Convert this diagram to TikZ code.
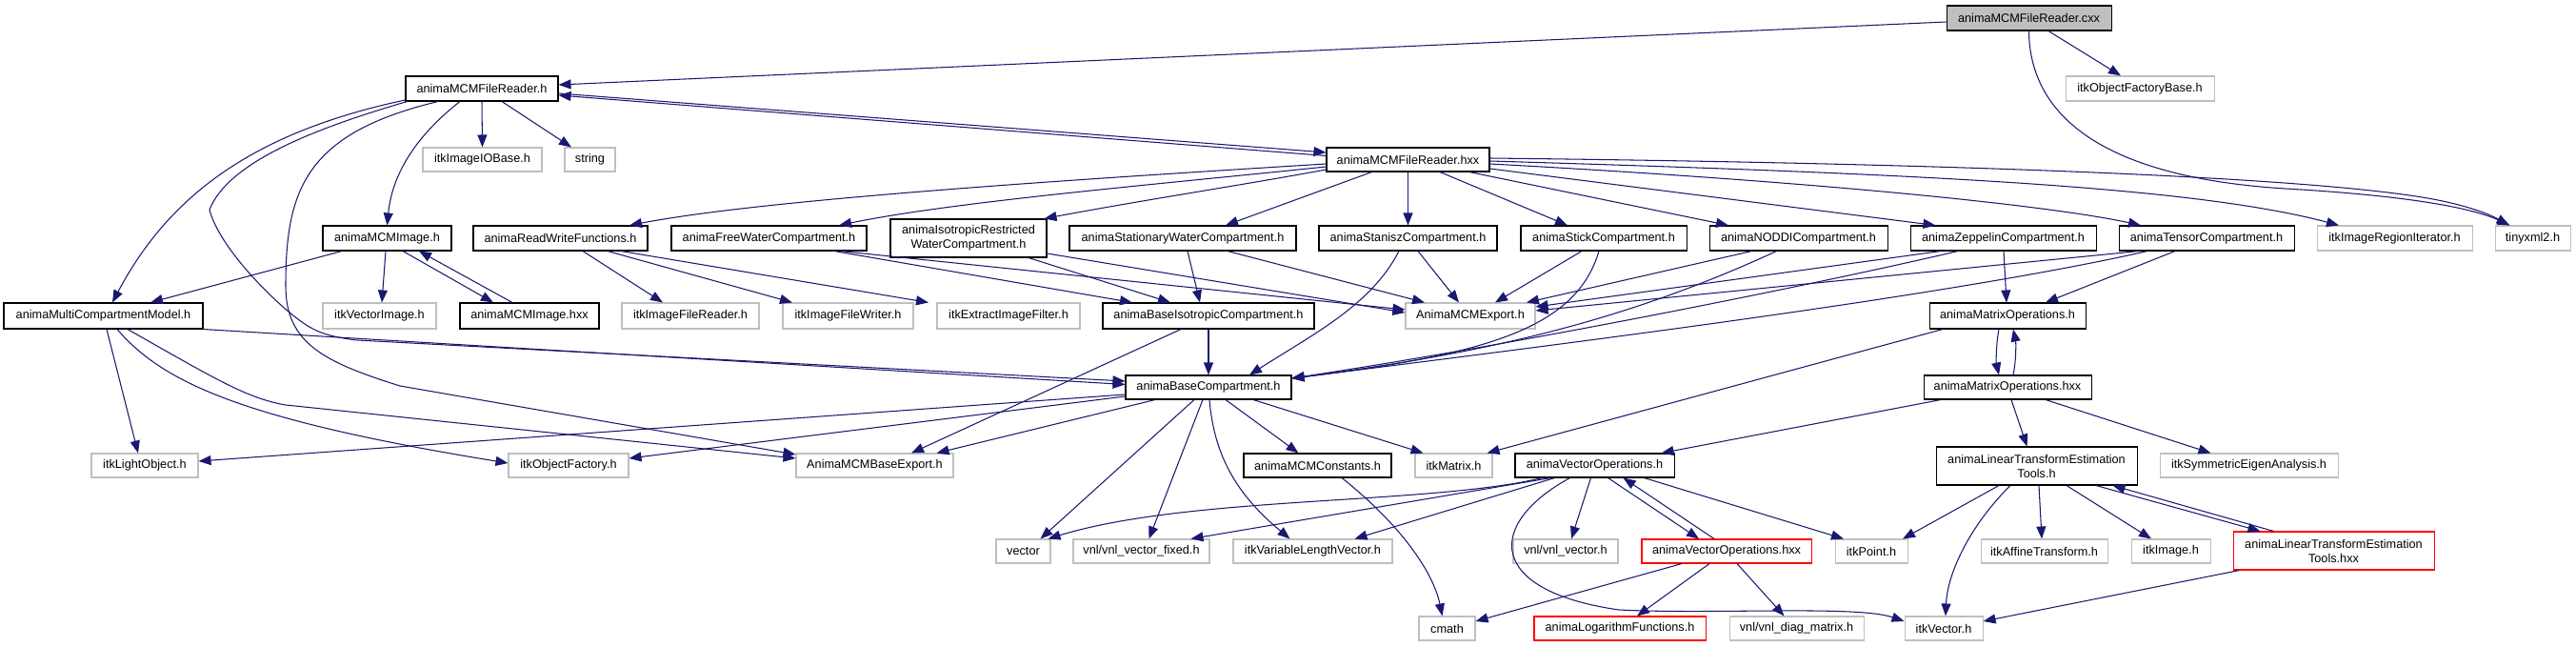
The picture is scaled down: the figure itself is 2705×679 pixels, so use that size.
\documentclass[tikz,border=0pt]{standalone}
\usepackage{fontspec}
\setmainfont{Liberation Sans}
\usetikzlibrary{arrows.meta}
\definecolor{edgec}{HTML}{191970}
\definecolor{grayb}{HTML}{BFBFBF}
\definecolor{cxxfill}{HTML}{BFBFBF}
\tikzset{
 box/.style={rectangle, inner sep=0pt, font=\fontsize{12.7}{15}\selectfont, line width=1.05pt, fill=white, align=center},
 blk/.style={box, draw=black},
 gry/.style={box, draw=grayb},
 redb/.style={box, draw=red},
 cur/.style={box, draw=black, fill=cxxfill},
 sz/.style 2 args={minimum width=#1, minimum height=#2},
 dep/.style={draw=edgec, line width=1.05pt, -{Triangle[length=13pt,width=10pt]}},
}
\begin{document}
\begin{tikzpicture}[x=1pt,y=-1pt]
\fill[white] (0,0) rectangle (2705,679);
\useasboundingbox (0,0) rectangle (2705,679);
% row 0
\node[cur, sz={173}{26}] (cxx) at (2130.5,19) {animaMCMFileReader.cxx};
% row 1
\node[blk, sz={160}{26}] (frh) at (506,93) {animaMCMFileReader.h};
\node[gry, sz={156}{26}] (ofb) at (2247,93) {itkObjectFactoryBase.h};
% row 2
\node[gry, sz={125}{25}] (iob) at (506.5,167.5) {itkImageIOBase.h};
\node[gry, sz={53}{25}] (str) at (619.5,167.5) {string};
\node[blk, sz={171}{25}] (hxx) at (1478.5,167.5) {animaMCMFileReader.hxx};
% row 3
\node[blk, sz={135}{26}] (img) at (406.5,250) {animaMCMImage.h};
\node[blk, sz={183}{26}] (rwf) at (588.5,250) {animaReadWriteFunctions.h};
\node[blk, sz={205}{26}] (fwc) at (807.5,250) {animaFreeWaterCompartment.h};
\node[blk, sz={164}{40}] (irwc) at (1017,250) {animaIsotropicRestricted\\WaterCompartment.h};
\node[blk, sz={238}{26}] (swc) at (1242,250) {animaStationaryWaterCompartment.h};
\node[blk, sz={187}{26}] (stan) at (1478.5,250) {animaStaniszCompartment.h};
\node[blk, sz={174}{26}] (stick) at (1684,250) {animaStickCompartment.h};
\node[blk, sz={187}{26}] (noddi) at (1888.5,250) {animaNODDICompartment.h};
\node[blk, sz={195}{26}] (zep) at (2103.5,250) {animaZeppelinCompartment.h};
\node[blk, sz={184}{26}] (tens) at (2317,250) {animaTensorCompartment.h};
\node[gry, sz={163}{26}] (iri) at (2514.5,250) {itkImageRegionIterator.h};
\node[gry, sz={79}{26}] (tiny) at (2659.5,250) {tinyxml2.h};
% row 4
\node[blk, sz={209}{27}] (mcm) at (108.5,331.5) {animaMultiCompartmentModel.h};
\node[gry, sz={119}{27}] (vimg) at (398.5,331.5) {itkVectorImage.h};
\node[blk, sz={146}{27}] (imghxx) at (556,331.5) {animaMCMImage.hxx};
\node[gry, sz={144}{27}] (ifr) at (725,331.5) {itkImageFileReader.h};
\node[gry, sz={137}{27}] (ifw) at (890.5,331.5) {itkImageFileWriter.h};
\node[gry, sz={150}{27}] (eif) at (1059,331.5) {itkExtractImageFilter.h};
\node[blk, sz={222}{27}] (bic) at (1269,331.5) {animaBaseIsotropicCompartment.h};
\node[gry, sz={136}{27}] (mexp) at (1544,331.5) {AnimaMCMExport.h};
\node[blk, sz={164}{27}] (mo) at (2108,331.5) {animaMatrixOperations.h};
% row 5
\node[blk, sz={174}{25}] (bc) at (1269,406.5) {animaBaseCompartment.h};
\node[blk, sz={176}{25}] (mohxx) at (2108,406.5) {animaMatrixOperations.hxx};
% row 6
\node[gry, sz={112}{25}] (light) at (152,488.5) {itkLightObject.h};
\node[gry, sz={126}{25}] (of) at (597,488.5) {itkObjectFactory.h};
\node[gry, sz={165}{25}] (bexp) at (918.5,488.5) {AnimaMCMBaseExport.h};
\node[blk, sz={155}{25}] (cons) at (1383.5,488.5) {animaMCMConstants.h};
\node[gry, sz={81}{25}] (mat) at (1526.5,488.5) {itkMatrix.h};
\node[blk, sz={167}{25}] (vo) at (1674.5,488.5) {animaVectorOperations.h};
\node[blk, sz={211}{40}] (ltet) at (2138.5,489) {animaLinearTransformEstimation\\Tools.h};
\node[gry, sz={187}{25}] (sea) at (2361.5,488.5) {itkSymmetricEigenAnalysis.h};
% row 7
\node[gry, sz={57}{25}] (vect) at (1074.5,578.5) {vector};
\node[gry, sz={143}{25}] (vvf) at (1198.5,578.5) {vnl/vnl\_vector\_fixed.h};
\node[gry, sz={167}{25}] (vlv) at (1378.5,578.5) {itkVariableLengthVector.h};
\node[gry, sz={110}{25}] (vvec) at (1644,578.5) {vnl/vnl\_vector.h};
\node[redb, sz={178}{25}] (vohxx) at (1813,578.5) {animaVectorOperations.hxx};
\node[gry, sz={76}{25}] (pt) at (1965,578.5) {itkPoint.h};
\node[gry, sz={133}{25}] (aff) at (2146.5,578.5) {itkAffineTransform.h};
\node[gry, sz={83}{25}] (itkimg) at (2279.5,578.5) {itkImage.h};
\node[redb, sz={211}{40}] (lthxx) at (2450.5,578) {animaLinearTransformEstimation\\Tools.hxx};
% row 8
\node[gry, sz={59}{25}] (cmath) at (1519.5,659.5) {cmath};
\node[redb, sz={180}{25}] (log) at (1701,659.5) {animaLogarithmFunctions.h};
\node[gry, sz={141}{25}] (diag) at (1886.5,659.5) {vnl/vnl\_diag\_matrix.h};
\node[gry, sz={82}{25}] (vec) at (2041,659.5) {itkVector.h};

% ---- edges ----
% cxx
\draw[dep] ([yshift=-4]cxx.west) -- ([yshift=4]frh.east);
\draw[dep] ([xshift=20.5]cxx.south) -- ([xshift=-20]ofb.north);
\draw[dep] (cxx.south) .. controls (2131,110) and (2190,185) .. (2400,198) .. controls (2540,206) and (2600,220) .. ([xshift=-24]tiny.north);
% frh
\draw[dep] ([yshift=-12]frh.west) .. controls (260,140) and (175,210) .. ([xshift=9.5]mcm.north);
\draw[dep] ([xshift=2]frh.south west) .. controls (330,135) and (240,170) .. (220,220) .. controls (230,260) and (290,320) .. (320,340) .. controls (335,350) and (350,354) .. (375,357) -- ([yshift=6.5]bc.west);
\draw[dep] ([xshift=-46]frh.south) .. controls (320,140) and (300,200) .. (300,300) .. controls (300,360) and (340,380) .. (420,405) -- ([yshift=11.5]bexp.west);
\draw[dep] ([xshift=-23]frh.south) .. controls (440,140) and (412,180) .. (img.north);
\draw[dep] (frh.south) -- (iob.north);
\draw[dep] ([xshift=21]frh.south) -- ([xshift=-19.5]str.north);
\draw[dep] ([yshift=-5]frh.east) -- ([yshift=7.5]hxx.west);
% hxx
\draw[dep] ([yshift=4]hxx.west) -- ([yshift=-7]frh.east);
\draw[dep] ([yshift=-4.5]hxx.west) .. controls (1100,190) and (800,210) .. ([xshift=72.5]rwf.north);
\draw[dep] ([yshift=-7.5]hxx.west) .. controls (1200,195) and (1000,212) .. ([xshift=73.5]fwc.north);
\draw[dep] ([yshift=-10.5]hxx.west) .. controls (1300,195) and (1200,210) .. ([xshift=-3]irwc.north east);
\draw[dep] ([xshift=-38]hxx.south) -- ([xshift=45]swc.north);
\draw[dep] (hxx.south) -- (stan.north);
\draw[dep] ([xshift=33.5]hxx.south) -- ([xshift=-38]stick.north);
\draw[dep] ([xshift=64.5]hxx.south) -- ([xshift=-73.5]noddi.north);
\draw[dep] ([yshift=-9.5]hxx.east) -- ([xshift=-71]zep.north);
\draw[dep] ([yshift=-4.5]hxx.east) .. controls (1900,190) and (2150,215) .. ([xshift=-69]tens.north);
\draw[dep] ([yshift=-1.5]hxx.east) .. controls (2000,182) and (2300,195) .. ([xshift=-58.5]iri.north);
\draw[dep] ([yshift=1.5]hxx.east) .. controls (2100,172) and (2450,188) .. (2560,210) .. controls (2600,218) and (2620,228) .. ([xshift=-25]tiny.north);
% mcm
\draw[dep] ([xshift=3.5]mcm.south) -- ([xshift=-7]light.north);
\draw[dep] ([xshift=14.5]mcm.south) .. controls (170,400) and (250,440) .. ([yshift=2.5]of.west);
\draw[dep] ([xshift=25.5]mcm.south) .. controls (230,400) and (260,418) .. (300,425) -- ([yshift=7.5]bexp.west);
\draw[dep] (mcm.south east) -- ([yshift=3]bc.west);
% img
\draw[dep] ([xshift=-47.5]img.south) -- ([xshift=49.5]mcm.north);
\draw[dep] ([xshift=-1.5]img.south) -- ([xshift=2.5]vimg.north);
\draw[dep] ([xshift=16.5]img.south) -- ([xshift=-38]imghxx.north);
\draw[dep] ([xshift=-18]imghxx.north) -- ([xshift=33.5]img.south);
% rwf
\draw[dep] ([xshift=23.5]rwf.south) -- ([xshift=-29]ifr.north);
\draw[dep] ([xshift=49.5]rwf.south) -- ([xshift=-58.5]ifw.north);
\draw[dep] ([xshift=63.5]rwf.south) -- ([xshift=-84]eif.north);
% water compartments
\draw[dep] ([xshift=68.5]fwc.south) -- ([xshift=-80]bic.north);
\draw[dep] ([xshift=75]fwc.south) -- ([yshift=6.5]mexp.west);
\draw[dep] ([xshift=63]irwc.south) -- ([xshift=-40]bic.north);
\draw[dep] ([yshift=-16]irwc.east) -- ([yshift=3.5]mexp.west);
\draw[dep] ([xshift=5]swc.south) -- ([xshift=-9]bic.north);
\draw[dep] ([xshift=47]swc.south) -- ([xshift=-48]mexp.north);
% stanisz, stick, noddi, zeppelin, tensor
\draw[dep] ([xshift=10.5]stan.south) -- ([xshift=-12]mexp.north);
\draw[dep] ([xshift=-9.5]stan.south) .. controls (1440,320) and (1380,350) .. ([xshift=43]bc.north);
\draw[dep] ([xshift=-23]stick.south) -- ([xshift=26]mexp.north);
\draw[dep] ([xshift=-5]stick.south) .. controls (1655,345) and (1560,372) .. ([yshift=9.5]bc.east);
\draw[dep] ([xshift=-49]noddi.south) -- ([xshift=59]mexp.north);
\draw[dep] ([xshift=-23]noddi.south) .. controls (1700,340) and (1550,372) .. ([yshift=9.5]bc.east);
\draw[dep] ([xshift=-65.5]zep.south) -- ([yshift=9.5]mexp.east);
\draw[dep] ([xshift=-47.5]zep.south) .. controls (1900,300) and (1600,360) .. ([yshift=9.5]bc.east);
\draw[dep] ([xshift=0.5]zep.south) -- ([xshift=-1]mo.north);
\draw[dep] ([xshift=-71]tens.south) -- ([yshift=5.5]mexp.east);
\draw[dep] ([xshift=-62]tens.south) .. controls (2050,310) and (1650,360) .. ([yshift=9.5]bc.east);
\draw[dep] ([xshift=-33]tens.south) -- ([xshift=40]mo.north);
% bic
\draw[dep] (bic.south) -- (bc.north);
\draw[dep] ([xshift=-29]bic.south) -- ([xshift=38.5]bexp.north);
% bc
\draw[dep] ([yshift=-7.5]bc.west) -- ([yshift=4.5]light.east);
\draw[dep] ([yshift=-9.5]bc.west) -- ([yshift=7.5]of.east);
\draw[dep] ([xshift=-56]bc.south) -- ([xshift=65]bexp.north);
\draw[dep] ([xshift=-15]bc.south) -- ([xshift=18]vect.north);
\draw[dep] ([xshift=-6]bc.south) -- ([xshift=8]vvf.north);
\draw[dep] ([xshift=1]bc.south) .. controls (1275,480) and (1300,520) .. ([xshift=-24]vlv.north);
\draw[dep] ([xshift=18]bc.south) -- ([xshift=-20]cons.north);
\draw[dep] ([xshift=47]bc.south) -- ([xshift=-32]mat.north);
\draw[dep] ([xshift=25.5]cons.south) .. controls (1470,550) and (1505,600) .. ([xshift=-5]cmath.north);
% matrix operations
\draw[dep] ([xshift=-9]mo.south) .. controls (2096,360) and (2096,380) .. ([xshift=-9]mohxx.north);
\draw[dep] ([xshift=6]mohxx.north) .. controls (2117,380) and (2117,360) .. ([xshift=6]mo.south);
\draw[dep] ([xshift=-68]mo.south) -- ([xshift=-6]mat.north east);
\draw[dep] ([xshift=-70]mohxx.south) -- ([xshift=-14]vo.north east);
\draw[dep] ([xshift=4]mohxx.south) -- ([xshift=-10]ltet.north);
\draw[dep] ([xshift=40]mohxx.south) -- ([xshift=-40]sea.north);
% vector operations
\draw[dep] ([xshift=-55]vo.south) .. controls (1500,530) and (1250,520) .. ([xshift=-3]vect.north east);
\draw[dep] ([xshift=-46]vo.south) -- ([xshift=52]vvf.north);
\draw[dep] ([xshift=-42]vo.south) -- ([xshift=44]vlv.north);
\draw[dep] ([xshift=-4]vo.south) -- ([xshift=6]vvec.north);
\draw[dep] ([xshift=14]vo.south) -- ([xshift=-29]vohxx.north);
\draw[dep] ([xshift=-13]vohxx.north) -- ([xshift=30]vo.south);
\draw[dep] ([xshift=52]vo.south) -- ([xshift=-29]pt.north);
\draw[dep] ([xshift=-26]vo.south) .. controls (1560,550) and (1560,620) .. (1700,640) .. controls (1800,645) and (1950,635) .. ([yshift=7.5]vec.west);
\draw[dep] ([xshift=-47]vohxx.south) -- ([yshift=7.5]cmath.east);
\draw[dep] ([xshift=-18]vohxx.south) -- ([xshift=18]log.north);
\draw[dep] ([xshift=11]vohxx.south) -- ([xshift=-13]diag.north);
% linear transform estimation tools
\draw[dep] ([xshift=-39.5]ltet.south) -- ([xshift=33]pt.north);
\draw[dep] ([xshift=-27.5]ltet.south) .. controls (2070,550) and (2045,600) .. ([xshift=2]vec.north);
\draw[dep] ([xshift=2.5]ltet.south) -- ([xshift=-2.5]aff.north);
\draw[dep] ([xshift=31.5]ltet.south) -- ([xshift=-20.5]itkimg.north);
\draw[dep] ([xshift=62.5]ltet.south) -- ([xshift=-77]lthxx.north);
\draw[dep] ([xshift=-63]lthxx.north) -- ([xshift=80]ltet.south);
\draw[dep] ([xshift=-99]lthxx.south) -- ([yshift=7.5]vec.east);
\end{tikzpicture}
\end{document}
